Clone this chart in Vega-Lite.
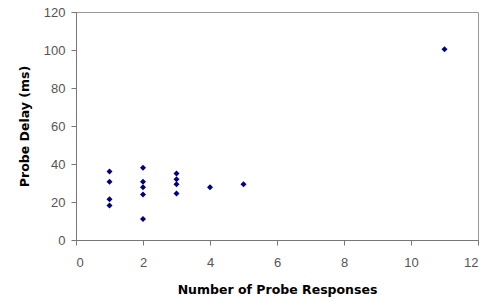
{
  "$schema": "https://vega.github.io/schema/vega-lite/v6.json",
  "width": 402,
  "height": 228,
  "autosize": "none",
  "padding": {"left": 76, "top": 12, "right": 9, "bottom": 61},
  "background": "white",
  "config": {
    "view": {"stroke": "#999999", "strokeWidth": 1},
    "font": "Liberation Sans"
  },
  "data": {
    "values": [
      {"responses": 1, "delay": 36},
      {"responses": 1, "delay": 30.6},
      {"responses": 1, "delay": 21.4},
      {"responses": 1, "delay": 18.2},
      {"responses": 2, "delay": 38},
      {"responses": 2, "delay": 30.6},
      {"responses": 2, "delay": 27.7},
      {"responses": 2, "delay": 24},
      {"responses": 2, "delay": 11},
      {"responses": 3, "delay": 35},
      {"responses": 3, "delay": 32},
      {"responses": 3, "delay": 29.3},
      {"responses": 3, "delay": 24.5},
      {"responses": 4, "delay": 27.7},
      {"responses": 5, "delay": 29.3},
      {"responses": 11, "delay": 100.4}
    ]
  },
  "mark": {"type": "point", "shape": "diamond", "filled": true, "color": "#000080", "size": 36, "opacity": 1},
  "encoding": {
    "x": {
      "field": "responses", "type": "quantitative",
      "scale": {"domain": [0, 12], "nice": false},
      "axis": {
        "title": "Number of Probe Responses", "values": [0, 2, 4, 6, 8, 10, 12],
        "grid": false, "domainColor": "#777777", "tickColor": "#777777", "tickSize": 5,
        "labelFontSize": 13, "labelColor": "#555555", "labelPadding": 11,
        "titleFont": "DejaVu Sans", "titleFontSize": 12.5, "titleFontWeight": "bold", "titleColor": "#000000", "titlePadding": 14
      }
    },
    "y": {
      "field": "delay", "type": "quantitative",
      "scale": {"domain": [0, 120], "nice": false},
      "axis": {
        "title": "Probe Delay (ms)", "values": [0, 20, 40, 60, 80, 100, 120],
        "grid": false, "domainColor": "#777777", "tickColor": "#777777", "tickSize": 5,
        "labelFontSize": 13, "labelColor": "#555555", "labelPadding": 6,
        "titleFont": "DejaVu Sans", "titleFontSize": 12.5, "titleFontWeight": "bold", "titleColor": "#000000", "titlePadding": 12
      }
    }
  }
}
